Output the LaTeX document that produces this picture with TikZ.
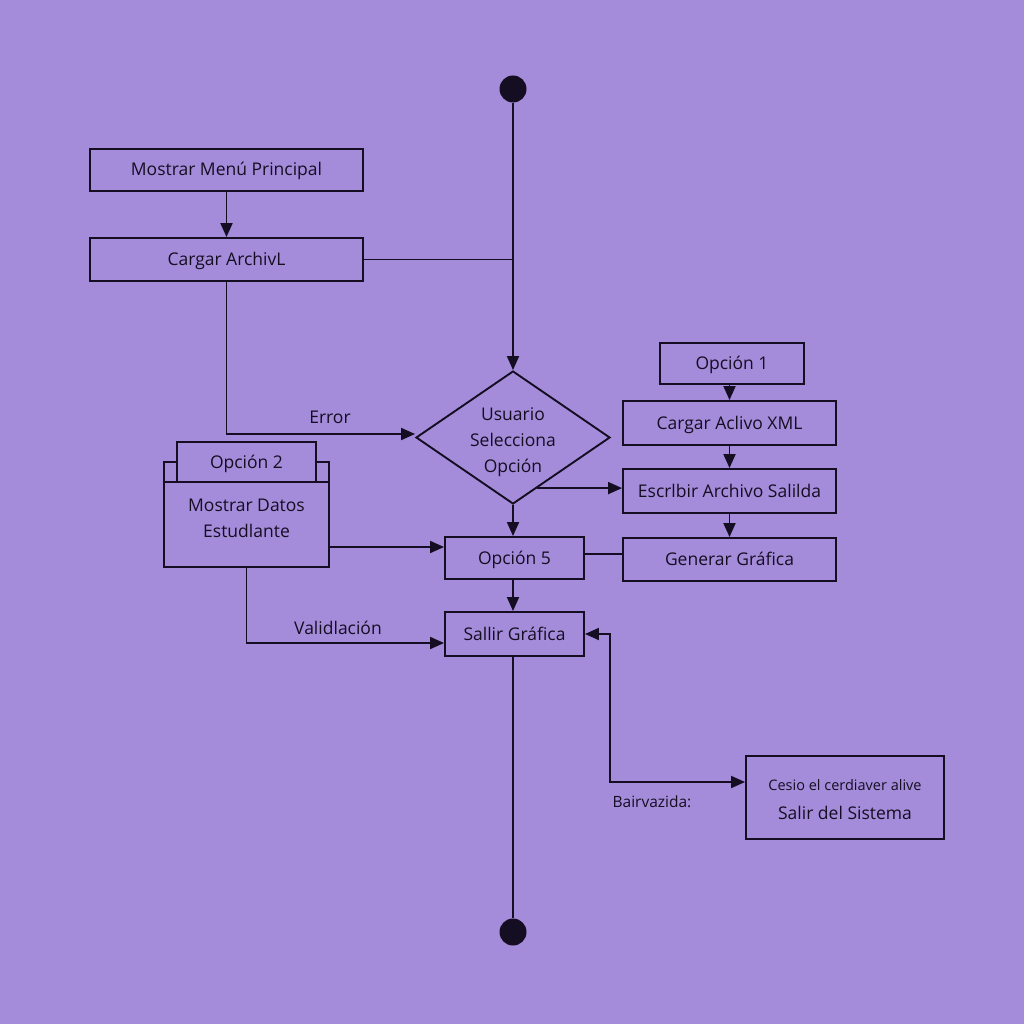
\documentclass[tikz,border=0pt]{standalone}
\usepackage{fontspec}
\setmainfont{Open Sans}
\usetikzlibrary{arrows.meta,shapes.geometric,calc}
\definecolor{bg}{HTML}{A48CDA}
\definecolor{ink}{HTML}{150E22}
\begin{document}
\begin{tikzpicture}[x=1pt,y=-1pt,
  font=\fontsize{17.5}{26}\selectfont,
  box/.style={draw=ink,line width=1.9pt,fill=bg,text=ink,inner sep=0pt,align=center,text height=16pt,text depth=4pt},
  ln/.style={draw=ink,line width=1.9pt},
  arr/.style={ln,-{Triangle[length=14pt,width=12pt]}},
  dbl/.style={ln,{Triangle[length=14pt,width=12pt]}-{Triangle[length=14pt,width=12pt]}},
  lbl/.style={text=ink,inner sep=0pt,align=center},
  dotnode/.style={circle,fill=ink,minimum size=27pt,inner sep=0pt}]
\fill[bg] (0,0) rectangle (1024,1024);
\useasboundingbox (0,0) rectangle (1024,1024);

% start / end
\node[dotnode] (top) at (513,89) {};
\node[dotnode] (bot) at (513,932) {};

% left column
\node[box,minimum width=273pt,minimum height=42pt] (menu) at (226.5,170) {Mostrar Menú Principal};
\node[box,minimum width=273pt,minimum height=43pt] (cargar) at (226.5,259.5) {Cargar ArchivL};

% decision
\node[box,diamond,minimum width=194pt,minimum height=133pt,aspect=1.46,text height=0pt,text depth=0pt] (dia) at (513,437.5) {};
\node[lbl] (diat) at (513,442) {Usuario\\Selecciona\\Opción};

% folder-like box
\draw[ln,fill=bg] (164,462) rectangle (329,482);
\node[box,minimum width=165pt,minimum height=85pt,text height=0pt,text depth=0pt] (mdatos) at (246.5,524.5) {};
\node[lbl] (mdatost) at (246.5,518) {Mostrar Datos\\Estudlante};
\node[box,minimum width=139pt,minimum height=40pt] (op2) at (246.5,462) {Opción 2};

% center column
\node[box,minimum width=139pt,minimum height=42pt] (op5) at (514.5,558) {Opción 5};
\node[box,minimum width=139pt,minimum height=44pt] (salirg) at (514.5,634) {Sallir Gráfica};

% right column
\node[box,minimum width=144pt,minimum height=41pt] (op1) at (732,363.5) {Opción 1};
\node[box,minimum width=213pt,minimum height=44pt] (cxml) at (729.5,423) {Cargar Aclivo XML};
\node[box,minimum width=213pt,minimum height=44pt] (escr) at (729.5,491) {Escrlbir Archivo Salilda};
\node[box,minimum width=213pt,minimum height=43pt] (gen) at (729.5,559.5) {Generar Gráfica};

% exit box
\node[box,minimum width=198pt,minimum height=83pt,text height=0pt,text depth=0pt] (sist) at (845,797.5) {};
\node[lbl,font=\fontsize{14.5}{16}\selectfont] (sistsub) at (845,785) {Cesio el cerdiaver alive};
\node[lbl] (sistt) at (845,813) {Salir del Sistema};

% connectors
\draw[arr] (top) -- (dia.north);
\draw[arr] (menu.south) -- (menu.south |- cargar.north);
\draw[ln] (cargar.east) -- (cargar.east -| top);
\coordinate (din) at ([yshift=3.5pt]dia.west);
\draw[arr] (cargar.south) |- (din);
\node[lbl] (err) at (330,417) {Error};

\coordinate (dx) at ($(dia.south)!0.25!(dia.east)$);
\draw[arr] (dx) -- (dx -| escr.west);
\draw[arr] (dia.south) -- (dia.south |- op5.north);

\coordinate (o5in) at ([yshift=11pt]op5.west);
\draw[arr] (mdatos.east |- o5in) -- (o5in);
\coordinate (o5out) at ([yshift=4pt]op5.east);
\draw[ln] (o5out) -- (o5out -| gen.west);
\draw[arr] (op5.south -| dia.south) -- (salirg.north -| dia.south);

\coordinate (sgin) at ([yshift=-9pt]salirg.west);
\draw[arr] (mdatos.south) |- (sgin);
\node[lbl] (val) at (338,628) {Validlación};

\draw[arr] (op1.south -| cxml.north) -- (cxml.north);
\draw[arr] (cxml) -- (escr);
\draw[arr] (escr) -- (gen);

\coordinate (sin) at ([yshift=15.5pt]sist.west);
\draw[dbl] (salirg.east) -- ++(25,0) |- (sin);
\node[lbl,font=\fontsize{15.5}{17}\selectfont] (bz) at (652,802) {Bairvazida:};

\draw[ln] (salirg.south -| bot) -- (bot);
\end{tikzpicture}
\end{document}
